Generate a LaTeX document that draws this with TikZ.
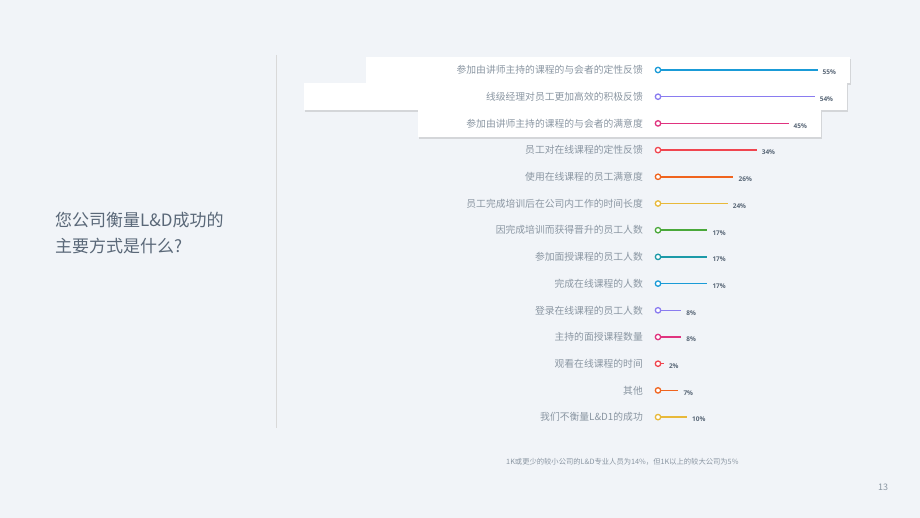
\documentclass[tikz,border=0pt]{standalone}
\usepackage{fontspec}
\setmainfont{Noto Sans CJK SC}
\newfontfamily\pctfont{Open Sans}
\usetikzlibrary{shadows}
\definecolor{bg}{HTML}{F1F4F8}
\definecolor{lbl}{HTML}{8A96A2}
\definecolor{ttl}{HTML}{5A6878}
\definecolor{cA}{HTML}{1A9BD7}
\definecolor{cB}{HTML}{8A7CF0}
\definecolor{cC}{HTML}{E0337F}
\definecolor{cD}{HTML}{F0454F}
\definecolor{cE}{HTML}{F0641E}
\definecolor{cF}{HTML}{E8B93A}
\definecolor{cG}{HTML}{4AA83A}
\definecolor{cH}{HTML}{1C9AA8}
\tikzset{x=1pt,y=-1pt,
 hbox/.style={fill=white,draw=none,drop shadow={shadow xshift=1pt,shadow yshift=-2pt,opacity=0.25}},
 rowlbl/.style={anchor=east,text=lbl,font=\fontsize{9.8}{11}\selectfont,inner sep=0},
 pct/.style={anchor=west,text=ttl,font=\pctfont\bfseries\fontsize{6.5}{7}\selectfont,inner sep=0}}
\begin{document}
\begin{tikzpicture}
\fill[bg] (0,0) rectangle (920,518);
\useasboundingbox (0,0) rectangle (920,518);
\draw[hbox] (366,57) rectangle (850,83);
\draw[hbox] (304,83) rectangle (847,110);
\draw[hbox] (418,110) rectangle (821,137);
\draw[black!15] (276,55) -- (276,428);
\node[anchor=west,text=ttl,font=\fontsize{17}{26}\selectfont,align=left,inner sep=0] (title) at (55,233) {您公司衡量L\&D成功的\\主要方式是什么?};
\foreach \i/\t/\p/\c in {0/参加由讲师主持的课程的与会者的定性反馈/55/cA,1/线级经理对员工更加高效的积极反馈/54/cB,2/参加由讲师主持的课程的与会者的满意度/45/cC,3/员工对在线课程的定性反馈/34/cD,4/使用在线课程的员工满意度/26/cE,5/员工完成培训后在公司内工作的时间长度/24/cF,6/因完成培训而获得晋升的员工人数/17/cG,7/参加面授课程的员工人数/17/cH,8/完成在线课程的人数/17/cA,9/登录在线课程的员工人数/8/cB,10/主持的面授课程数量/8/cC,11/观看在线课程的时间/2/cD,12/其他/7/cE,13/我们不衡量L\&D1的成功/10/cF}{
 \pgfmathsetmacro\yy{70+26.7*\i}
 \pgfmathsetmacro\xe{658+2.9*\p}
 \node[rowlbl] (l\i) at (643,\yy) {\t};
 \coordinate (s\i) at (658,\yy);
 \coordinate (e\i) at (\xe,\yy);
 \draw[\c,line width=1.5pt] (s\i) -- (e\i);
 \draw[\c,line width=1.3pt,fill=white] (s\i) circle (2.7);
 \node[pct] (p\i) at ([xshift=5pt,yshift=-2.5pt]e\i) {\p\%};
}
\node[anchor=west,text=lbl,font=\fontsize{7.3}{8}\selectfont,inner sep=0] (fn) at (506,462) {1K或更少的较小公司的L\&D专业人员为14\%，但1K以上的较大公司为5\%};
\node[text=lbl,font=\fontsize{9}{10}\selectfont,inner sep=0] (pg) at (883,487) {13};
\end{tikzpicture}
\end{document}
